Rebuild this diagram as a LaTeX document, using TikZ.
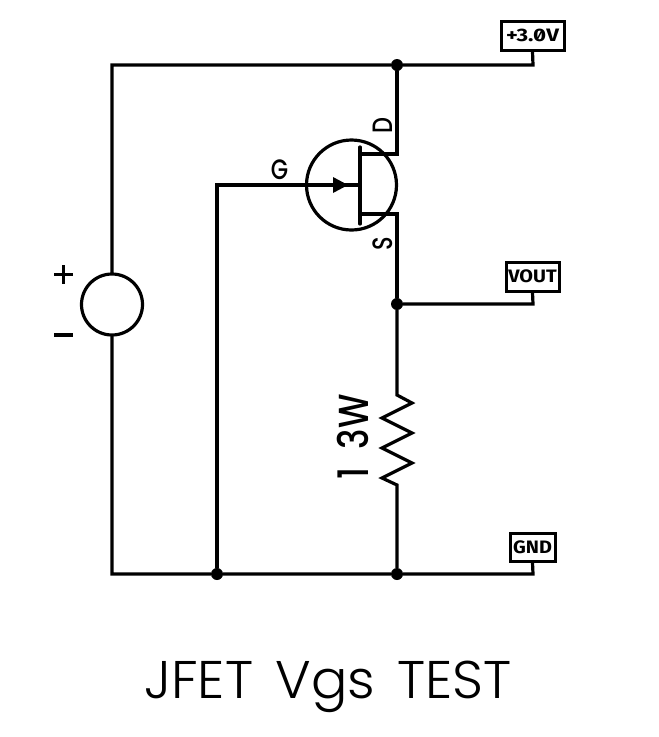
\documentclass[tikz,border=0pt]{standalone}
\usepackage{fontspec}
\setmainfont{Poppins}
\newfontfamily\titlefont[FakeStretch=1.02,WordSpace=1.5]{Poppins Light}
\newfontfamily\pinfont[FakeStretch=.8]{Poppins Medium}
\newfontfamily\valfont[FakeStretch=.82]{Poppins Medium}
\newfontfamily\tagfont[RawFeature=+zero,FakeStretch=1.1]{Fira Sans}
\newfontfamily\tagwide[RawFeature=+zero,FakeStretch=1.24]{Fira Sans}
\tikzset{
  wire/.style={line width=3.2pt,line cap=round,line join=miter,black},
  dotmark/.style={circle,fill=black,inner sep=0pt,minimum size=12pt},
  tagbox/.style={draw=black,line width=3pt,fill=white,inner sep=0pt,font=\tagfont\bfseries\fontsize{18}{18}\selectfont},
  pinlabel/.style={inner sep=0pt,font=\pinfont\fontsize{28}{28}\selectfont},
  vallabel/.style={inner sep=0pt,font=\valfont\fontsize{42}{42}\selectfont},
  ringshape/.style={circle,draw=black,line width=3.2pt,inner sep=0pt,fill=none}
}
\begin{document}
\begin{tikzpicture}[x=1pt,y=-1pt]
\useasboundingbox (0,0) rectangle (659,737);
% corners and free ends
\coordinate (tl) at (112,65);
\coordinate (bl) at (112,574);
\coordinate (tr) at (533,65);
\coordinate (vr) at (533,304);
\coordinate (br) at (533,574);
\coordinate (dc) at (397,154);
\coordinate (sc) at (397,214);
\coordinate (dg) at (360,154);
\coordinate (sg) at (360,214);
\coordinate (ct) at (360,147);
\coordinate (cb) at (360,224);
\coordinate (gc) at (360,185);
\coordinate (gl) at (217,185);
\coordinate (rt) at (397,395);
\coordinate (rb) at (397,485);
% junctions
\node[dotmark] (jt) at (397,65) {};
\node[dotmark] (jv) at (397,304) {};
\node[dotmark] (jb) at (397,574) {};
\node[dotmark] (jg) at (217,574) {};
% tags
\node[tagbox,font=\tagwide\bfseries\fontsize{18}{18}\selectfont,minimum width=63pt,minimum height=29pt] (p3) at (532.5,35.5) {+3.0V};
\node[tagbox,minimum width=53pt,minimum height=29pt] (vo) at (532.5,276.5) {VOUT};
\node[tagbox,minimum width=45pt,minimum height=28pt] (gn) at (532.5,547) {GND};
% source and fet ring
\node[ringshape,minimum size=61pt] (vs) at (112,304.5) {};
\node[ringshape,minimum size=90pt] (q) at (351.5,185) {};
% wires
\draw[wire] (vs.north) -- (tl) -- (jt) -- (tr) -- (p3.south);
\draw[wire] (vs.south) -- (bl) -- (jg) -- (jb) -- (br) -- (gn.south);
\draw[wire] (jt) -- (dc) -- (dg);
\draw[wire] (jv) -- (sc) -- (sg);
\draw[wire] (jv) -- (vr) -- (vo.south);
\draw[wire] (ct) -- (cb);
\draw[wire] (jg) -- (gl) -- (gc);
\draw[fill=black,draw=none] (333,177) -- (348,185) -- (333,193) -- cycle;
% resistor
\draw[wire] (jv) -- (rt) -- (412,403) -- (382,418) -- (412,433) -- (382,448) -- (412,463) -- (382,478) -- (rb) -- (jb);
% labels
\node[pinlabel] (lg) at (279.5,170) {G};
\node[pinlabel,rotate=90] (ld) at (382.5,126) {D};
\node[pinlabel,rotate=90] (ls) at (382.5,243.5) {S};
\node[vallabel,rotate=90] (lr) at (352.5,437) {1\hspace{18pt}3W};
\draw[line width=3.2pt] (63.5,265) -- (63.5,284) (54,274.5) -- (73,274.5);
\draw[line width=3.2pt] (54,335) -- (73,335);
\node[inner sep=0pt,font=\titlefont\fontsize{53}{53}\selectfont] (ttl) at (328,687) {JFET Vgs TEST};
\end{tikzpicture}
\end{document}
